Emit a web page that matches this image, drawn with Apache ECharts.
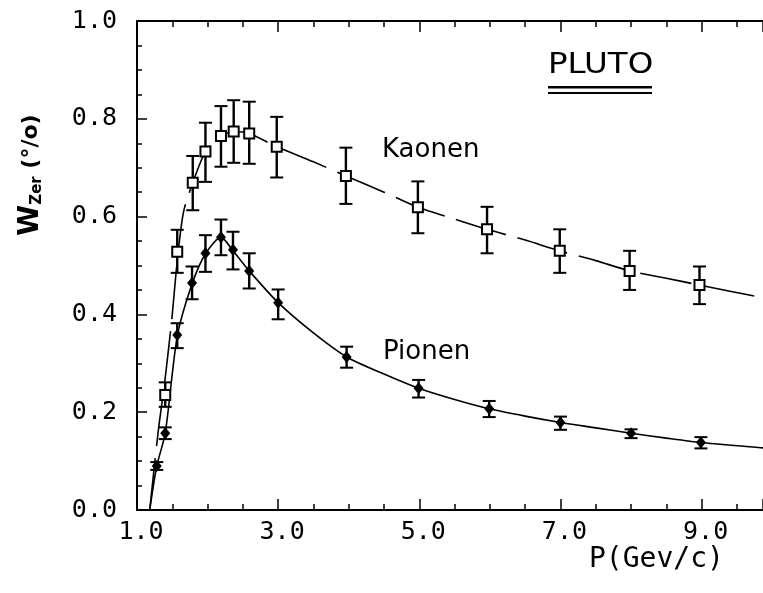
<!DOCTYPE html>
<html>
<head>
<meta charset="utf-8">
<script src="https://cdn.jsdelivr.net/npm/echarts@6/dist/echarts.min.js"></script>
<style>
html,body{margin:0;padding:0;background:#fff;}
#chart{width:763px;height:593px;}
</style>
</head>
<body>
<div id="chart"></div>
<script>
// ---- Data ----
// Kaonen (open squares)
var kaonX   = [1.40, 1.57, 1.79, 1.97, 2.19, 2.37, 2.59, 2.98, 3.96, 4.98, 5.96, 6.99, 7.98, 8.97];
var kaonY   = [0.235, 0.528, 0.669, 0.733, 0.765, 0.774, 0.770, 0.743, 0.683, 0.619, 0.574, 0.530, 0.489, 0.460];
var kaonLo  = [0.211, 0.485, 0.613, 0.671, 0.702, 0.710, 0.708, 0.680, 0.626, 0.566, 0.525, 0.485, 0.450, 0.421];
var kaonHi  = [0.261, 0.573, 0.724, 0.792, 0.826, 0.838, 0.835, 0.804, 0.741, 0.672, 0.620, 0.574, 0.530, 0.498];
// Pionen (filled diamonds)
var pionX   = [1.28, 1.40, 1.57, 1.78, 1.97, 2.19, 2.36, 2.59, 3.00, 3.97, 4.99, 5.99, 7.00, 8.00, 8.99];
var pionY   = [0.090, 0.157, 0.358, 0.464, 0.525, 0.558, 0.532, 0.489, 0.424, 0.313, 0.249, 0.207, 0.179, 0.157, 0.138];
var pionLo  = [0.082, 0.145, 0.331, 0.431, 0.487, 0.521, 0.492, 0.453, 0.390, 0.291, 0.230, 0.190, 0.164, 0.147, 0.126];
var pionHi  = [0.098, 0.169, 0.382, 0.498, 0.562, 0.594, 0.569, 0.525, 0.451, 0.334, 0.266, 0.223, 0.191, 0.165, 0.149];
// Fitted curves
var kaonCurveX = [1.18, 1.30, 1.40, 1.50, 1.57, 1.66, 1.79, 1.97, 2.19, 2.37, 2.59, 2.98, 3.50, 3.96, 4.50, 4.98, 5.50, 5.96, 6.50, 6.99, 7.50, 7.98, 8.50, 8.97, 9.87];
var kaonCurveY = [0.000, 0.160, 0.270, 0.400, 0.510, 0.610, 0.669, 0.733, 0.765, 0.774, 0.770, 0.743, 0.712, 0.683, 0.650, 0.619, 0.595, 0.574, 0.552, 0.530, 0.510, 0.489, 0.474, 0.460, 0.434];
var pionCurveX = [1.18, 1.28, 1.40, 1.57, 1.78, 1.97, 2.19, 2.36, 2.59, 3.00, 3.50, 3.97, 4.50, 4.99, 5.50, 5.99, 6.50, 7.00, 7.50, 8.00, 8.50, 8.99, 9.87];
var pionCurveY = [0.000, 0.090, 0.157, 0.355, 0.462, 0.524, 0.558, 0.530, 0.489, 0.424, 0.362, 0.313, 0.278, 0.249, 0.226, 0.207, 0.192, 0.179, 0.168, 0.157, 0.147, 0.138, 0.127];
// Axis ticks
var xMin = 1.0, xMax = 9.87;
var yMin = 0.0, yMax = 1.0;
var xLabelValues = [1, 3, 5, 7, 9];
var yTickStep = 0.2;
// Texts
var xTitle = 'P(Gev/c)';
var kaonLabel = 'Kaonen';
var pionLabel = 'Pionen';
var experiment = 'PLUTO';

function zip2(a, b) { return a.map(function (v, i) { return [v, b[i]]; }); }
function zip4(a, b, c, d) { return a.map(function (v, i) { return [v, b[i], c[i], d[i]]; }); }

var monoFont = '"DejaVu Sans Mono", "Liberation Mono", monospace';
var sansFont = '"DejaVu Sans", "Liberation Sans", sans-serif';

function errRender(params, api) {
  var x = api.value(0), lo = api.value(2), hi = api.value(3);
  var a = api.coord([x, lo]), b = api.coord([x, hi]);
  var w = 6.5;
  var st = {stroke: '#000', lineWidth: 2.4};
  return {
    type: 'group',
    children: [
      {type: 'line', shape: {x1: a[0], y1: a[1], x2: b[0], y2: b[1]}, style: st},
      {type: 'line', shape: {x1: a[0] - w, y1: a[1], x2: a[0] + w, y2: a[1]}, style: {stroke: '#000', lineWidth: 2}},
      {type: 'line', shape: {x1: b[0] - w, y1: b[1], x2: b[0] + w, y2: b[1]}, style: {stroke: '#000', lineWidth: 2}}
    ]
  };
}

var chart = echarts.init(document.getElementById('chart'));
var shift = xMin; // helper axes run from 0 so that ticks fall on odd values of the main axis

function xLabelFmt(v) {
  for (var i = 0; i < xLabelValues.length; i++) {
    if (Math.abs(v - xLabelValues[i]) < 1e-6) return v.toFixed(1);
  }
  return '';
}

var option = {
  animation: false,
  backgroundColor: '#fff',
  grid: {left: 137, right: 0, top: 21, bottom: 83},
  xAxis: [
    {
      type: 'value', min: xMin, max: xMax, interval: 0.5, position: 'bottom',
      axisLine: {show: true, lineStyle: {color: '#000', width: 2}},
      axisTick: {show: true, inside: true, length: 6, lineStyle: {color: '#000', width: 1.5}},
      axisLabel: {formatter: xLabelFmt, color: '#000', fontFamily: monoFont, fontSize: 25, margin: 10, padding: [0, 0, 0, 8], showMinLabel: true, showMaxLabel: false},
      splitLine: {show: false}
    },
    {
      type: 'value', min: xMin - shift, max: xMax - shift, interval: 2, position: 'bottom',
      axisLine: {show: false},
      axisTick: {show: true, inside: true, length: 11, lineStyle: {color: '#000', width: 1.5}},
      axisLabel: {show: false}, splitLine: {show: false}
    },
    {
      type: 'value', min: xMin, max: xMax, interval: 0.5, position: 'top',
      axisLine: {show: true, lineStyle: {color: '#000', width: 2}},
      axisTick: {show: true, inside: true, length: 6, lineStyle: {color: '#000', width: 1.5}},
      axisLabel: {show: false}, splitLine: {show: false}
    },
    {
      type: 'value', min: xMin - shift, max: xMax - shift, interval: 2, position: 'top',
      axisLine: {show: false},
      axisTick: {show: true, inside: true, length: 11, lineStyle: {color: '#000', width: 1.5}},
      axisLabel: {show: false}, splitLine: {show: false}
    }
  ],
  yAxis: {
    type: 'value', min: yMin, max: yMax, interval: yTickStep,
    axisLine: {show: true, lineStyle: {color: '#000', width: 2}},
    axisTick: {show: true, inside: true, length: 10, lineStyle: {color: '#000', width: 1.5}},
    minorTick: {show: true, splitNumber: 4, length: 5, lineStyle: {color: '#000', width: 1.5}},
    axisLabel: {formatter: function (v) { return v.toFixed(1); }, color: '#000', fontFamily: monoFont, fontSize: 25, margin: 20},
    splitLine: {show: false}
  },
  series: [
    {
      type: 'line', name: 'Kaonen-Fit', xAxisIndex: 0, data: zip2(kaonCurveX, kaonCurveY),
      showSymbol: false, symbol: 'none', smooth: 0.25, z: 1,
      lineStyle: {color: '#000', width: 1.6, type: [52, 12]}
    },
    {
      type: 'line', name: 'Pionen-Fit', xAxisIndex: 0, data: zip2(pionCurveX, pionCurveY),
      showSymbol: false, symbol: 'none', smooth: 0.25, z: 1,
      lineStyle: {color: '#000', width: 1.6}
    },
    {
      type: 'custom', name: 'Kaonen-Err', xAxisIndex: 0, renderItem: errRender,
      data: zip4(kaonX, kaonY, kaonLo, kaonHi), z: 2
    },
    {
      type: 'custom', name: 'Pionen-Err', xAxisIndex: 0, renderItem: errRender,
      data: zip4(pionX, pionY, pionLo, pionHi), z: 2
    },
    {
      type: 'scatter', name: 'Kaonen', xAxisIndex: 0, data: zip2(kaonX, kaonY),
      symbol: 'rect', symbolSize: 10, z: 3,
      itemStyle: {color: '#fff', borderColor: '#000', borderWidth: 2, opacity: 1}
    },
    {
      type: 'scatter', name: 'Pionen', xAxisIndex: 0, data: zip2(pionX, pionY),
      symbol: 'diamond', symbolSize: [10, 12], z: 3,
      itemStyle: {color: '#000', opacity: 1}
    }
  ],
  graphic: [
    {type: 'text', left: 382, top: 137, style: {text: kaonLabel, font: '26px ' + sansFont, fill: '#000'}},
    {type: 'text', left: 383, top: 339, style: {text: pionLabel, font: '26px ' + sansFont, fill: '#000'}},
    {type: 'text', x: 548, y: 52, scaleX: 1.16, style: {text: experiment, font: '28px ' + sansFont, fill: '#000', verticalAlign: 'top', align: 'left'}},
    {type: 'rect', shape: {x: 548, y: 86, width: 104, height: 2.5}, style: {fill: '#000'}},
    {type: 'rect', shape: {x: 548, y: 92, width: 104, height: 2}, style: {fill: '#000'}},
    {type: 'text', left: 589, top: 546, style: {text: xTitle, font: '28px ' + monoFont, fill: '#000'}},
    {
      type: 'text', x: 31, y: 175, rotation: Math.PI / 2,
      style: {
        text: '{w|W}{s|Zer}{n| (°/o)}',
        align: 'center', verticalAlign: 'middle',
        rich: {
          w: {font: 'bold 28px ' + sansFont, fill: '#000'},
          s: {font: 'bold 15px ' + sansFont, fill: '#000', padding: [12, 0, 0, 0]},
          n: {font: 'bold 22px ' + sansFont, fill: '#000'}
        }
      }
    }
  ]
};
chart.setOption(option);
</script>
</body>
</html>
